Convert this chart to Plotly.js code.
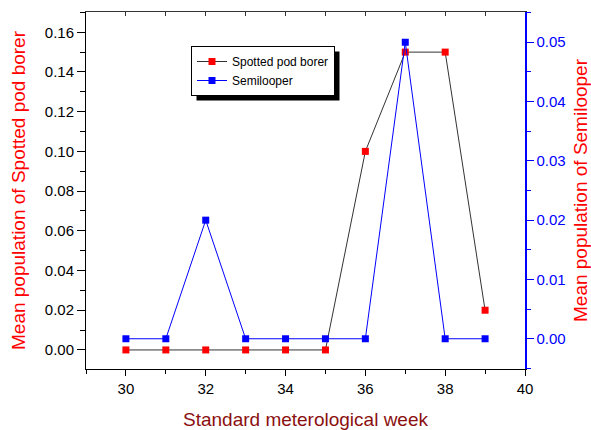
<!DOCTYPE html>
<html>
<head>
<meta charset="utf-8">
<script src="https://cdn.plot.ly/plotly-3.0.1.min.js"></script>
<style>html,body{margin:0;padding:0;background:#fff;}#chart{width:591px;height:430px;}</style>
</head>
<body>
<div id="chart"></div>
<script>
const weeks = [30, 31, 32, 33, 34, 35, 36, 37, 38, 39];
const spottedPodBorer = [0, 0, 0, 0, 0, 0, 0.10, 0.15, 0.15, 0.02];
const semilooper = [0, 0, 0.02, 0, 0, 0, 0, 0.05, 0, 0];
const seriesNames = ["Spotted pod borer", "Semilooper"];
const xTitle = "Standard meterological week";
const yTitle = "Mean population of Spotted pod borer";
const y2Title = "Mean population of Semilooper";

const FONT = "Liberation Sans, Arial, sans-serif";

const traces = [
  {
    x: weeks, y: spottedPodBorer, name: seriesNames[0], type: "scatter", mode: "lines+markers",
    line: {color: "#333333", width: 1},
    marker: {symbol: "square", size: 7, color: "#ff0000", line: {width: 0}},
    xaxis: "x", yaxis: "y"
  },
  {
    x: weeks, y: semilooper, name: seriesNames[1], type: "scatter", mode: "lines+markers",
    line: {color: "#0000ff", width: 1},
    marker: {symbol: "square", size: 7, color: "#0000ff", line: {width: 0}},
    xaxis: "x", yaxis: "y2"
  },
  // invisible helper trace so the top (mirror) axis is drawn
  {x: [29], y: [null], xaxis: "x2", yaxis: "y", showlegend: false, hoverinfo: "skip", type: "scatter", mode: "markers"}
];

const L = 86, R = 525, T = 12, B = 369, W = 591, H = 430;
const px = v => (v - L) / (R - L);
const py = v => (B - v) / (B - T);

const layout = {
  width: W, height: H,
  margin: {l: L, r: W - R, t: T, b: H - B, pad: 0},
  paper_bgcolor: "#ffffff", plot_bgcolor: "#ffffff",
  font: {family: FONT, size: 15, color: "#000000"},
  showlegend: true,
  legend: {
    x: px(191), y: py(46), xanchor: "left", yanchor: "top",
    bgcolor: "#ffffff", bordercolor: "#000000", borderwidth: 1,
    font: {family: FONT, size: 12, color: "#000000"},
    itemwidth: 30, tracegroupgap: 0
  },
  xaxis: {
    range: [29, 40], showgrid: false, zeroline: false,
    showline: true, linecolor: "#000000", linewidth: 1,
    ticks: "outside", tickmode: "linear", tick0: 30, dtick: 2, ticklen: 6, tickcolor: "#000000",
    minor: {ticks: "outside", dtick: 1, ticklen: 4, tickcolor: "#000000", showgrid: false},
    tickfont: {family: FONT, size: 15, color: "#000000"},
    title: {text: xTitle, font: {family: FONT, size: 19, color: "#8b1010"}, standoff: 19},
    automargin: false
  },
  xaxis2: {
    overlaying: "x", side: "top", range: [29, 40],
    showgrid: false, zeroline: false, showticklabels: false,
    showline: true, linecolor: "#333333", linewidth: 1,
    ticks: "inside", tickmode: "linear", tick0: 30, dtick: 1, ticklen: 4, tickcolor: "#333333"
  },
  yaxis: {
    range: [-0.0096, 0.1702], showgrid: false, zeroline: false,
    showline: true, linecolor: "#000000", linewidth: 1,
    ticks: "outside", tickmode: "linear", tick0: 0, dtick: 0.02, ticklen: 8, tickcolor: "#000000",
    minor: {ticks: "outside", dtick: 0.01, ticklen: 5, tickcolor: "#000000", showgrid: false},
    tickformat: ".2f",
    tickfont: {family: FONT, size: 15, color: "#000000"},
    title: {text: yTitle, font: {family: FONT, size: 19, color: "#ff0000"}, standoff: 14},
    automargin: false
  },
  yaxis2: {
    overlaying: "y", side: "right", anchor: "x",
    range: [-0.0051, 0.0551], showgrid: false, zeroline: false,
    showline: true, linecolor: "#0000ff", linewidth: 1.5,
    ticks: "outside", tickmode: "linear", tick0: 0, dtick: 0.01, ticklen: 7, tickcolor: "#0000ff",
    minor: {ticks: "outside", dtick: 0.005, ticklen: 4, tickcolor: "#0000ff", showgrid: false},
    tickformat: ".2f",
    tickfont: {family: FONT, size: 15, color: "#0000ff"},
    title: {text: y2Title, font: {family: FONT, size: 19, color: "#ff0000"}, standoff: 13},
    automargin: false
  },
  shapes: []
};

Plotly.newPlot("chart", traces, layout, {displayModeBar: false, staticPlot: true}).then(gd => {
  // drop shadow behind the legend box, sized from the rendered legend
  const bg = gd.querySelector(".legend .bg");
  const host = gd.getBoundingClientRect();
  if (!bg) return;
  const r = bg.getBoundingClientRect();
  const off = 5;
  const x0 = r.left - host.left + off, x1 = r.right - host.left + off;
  const y0 = r.top - host.top + off, y1 = r.bottom - host.top + off;
  return Plotly.relayout(gd, {
    shapes: [{type: "rect", xref: "paper", yref: "paper", layer: "above",
      x0: px(x0), x1: px(x1), y0: py(y1), y1: py(y0),
      fillcolor: "#000000", line: {width: 0}}]
  });
});
</script>
</body>
</html>
